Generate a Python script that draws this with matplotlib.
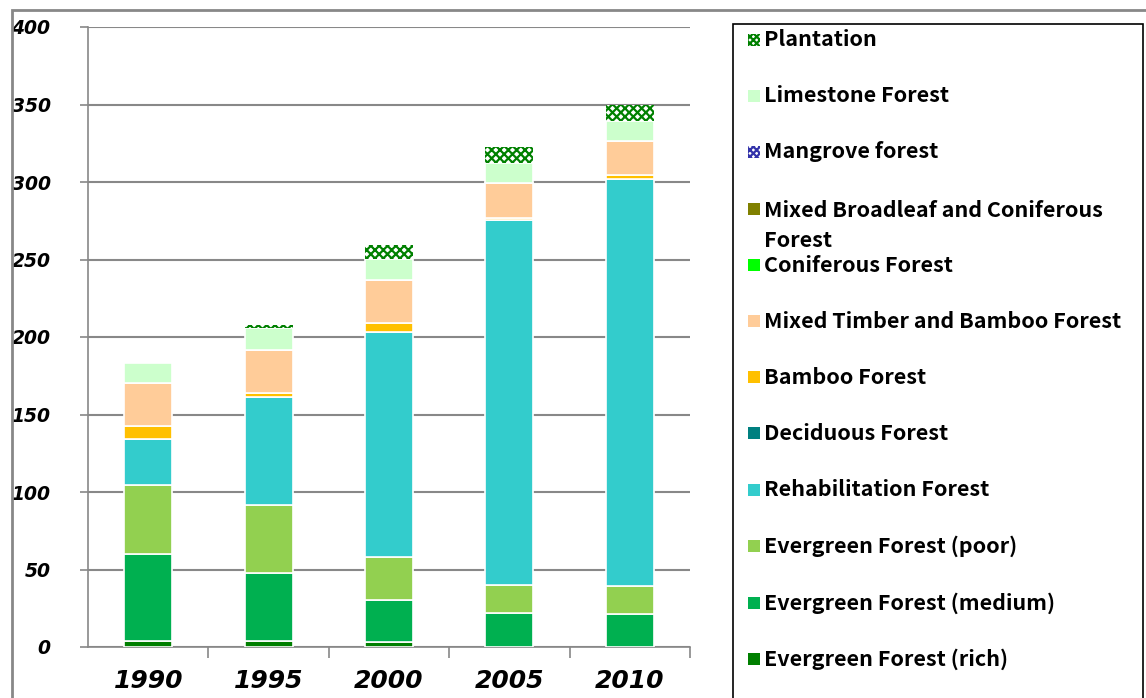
import matplotlib
matplotlib.use('Agg')
import matplotlib.pyplot as plt
from matplotlib.patches import Rectangle
import numpy as np

years = ['1990', '1995', '2000', '2005', '2010']

rich = [3.9, 4.0, 3.4, 0.0, 0.0]
medium = [56.1, 43.7, 26.9, 22.0, 21.3]
poor = [44.5, 43.9, 28.0, 18.2, 18.3]
rehab = [29.5, 69.4, 145.1, 235.5, 262.5]
deciduous = [0.0, 0.0, 0.0, 0.0, 0.0]
bamboo = [8.5, 3.1, 5.8, 1.3, 2.6]
mixed_timber = [28.0, 27.8, 27.8, 22.6, 21.9]
coniferous = [0.0, 0.0, 0.0, 0.0, 0.0]
mixed_broadleaf = [0.0, 0.0, 0.0, 0.0, 0.0]
mangrove = [0.0, 0.0, 0.0, 0.0, 0.0]
limestone = [13.0, 13.6, 13.3, 12.9, 12.9]
plantation = [0.0, 2.3, 9.1, 10.1, 10.2]

# bottom -> top
names = ['Evergreen Forest (rich)', 'Evergreen Forest (medium)', 'Evergreen Forest (poor)',
         'Rehabilitation Forest', 'Deciduous Forest', 'Bamboo Forest',
         'Mixed Timber and Bamboo Forest', 'Coniferous Forest',
         'Mixed Broadleaf and Coniferous\nForest', 'Mangrove forest',
         'Limestone Forest', 'Plantation']
values = [rich, medium, poor, rehab, deciduous, bamboo, mixed_timber, coniferous,
          mixed_broadleaf, mangrove, limestone, plantation]
colors = ['#007F00', '#00B050', '#92D050', '#33CCCC', '#008080', '#FFC000',
          '#FFCC99', '#00FF00', '#808000', '#FFFFFF', '#CCFFCC', '#FFFFFF']
hatches = [None] * 9 + ['xxxx', None, 'xxxx']
hatch_colors = [None] * 9 + ['#3333AA', None, '#008000']

plt.rcParams['hatch.linewidth'] = 1.6

W, H = 1146, 698
fig = plt.figure(figsize=(W / 100, H / 100), dpi=100)
fig.patch.set_facecolor('white')

ax = fig.add_axes([88 / W, 1 - 647 / H, (690 - 88) / W, (647 - 27) / H])

x = np.arange(len(years))
bottom = np.zeros(len(years))
for vals, col, hat, hc in zip(values, colors, hatches, hatch_colors):
    v = np.array(vals)
    if hat:
        ax.bar(x, v, 0.4, bottom=bottom, color='white', edgecolor=hc, hatch=hat,
               linewidth=0, zorder=3)
    else:
        ax.bar(x, v, 0.4, bottom=bottom, color=col, edgecolor='white',
               linewidth=1.2, zorder=3)
    bottom += v

ax.set_xlim(-0.5, 4.5)
ax.set_ylim(0, 400)
ax.set_yticks(np.arange(0, 401, 50))
ax.grid(axis='y', color='#888888', linewidth=1.5, zorder=0)
ax.set_axisbelow(True)
for s in ['top', 'right']:
    ax.spines[s].set_visible(False)
for s in ['left', 'bottom']:
    ax.spines[s].set_color('#888888')
    ax.spines[s].set_linewidth(1.2)

ax.set_xticks(x)
ax.set_xticklabels(years, fontsize=18, fontweight='bold', fontstyle='italic')
ax.set_xticks(np.arange(0.5, 4.6, 1), minor=True)
ax.tick_params(axis='x', which='major', length=0, pad=16)
ax.tick_params(axis='x', which='minor', length=8, color='#888888', width=1.2)
ax.tick_params(axis='y', length=6, color='#888888', width=1.2, pad=21,
               labelsize=13.5)
for lab in ax.get_yticklabels():
    lab.set_fontweight('bold')
    lab.set_fontstyle('italic')

# outer chart border
fig.add_artist(Rectangle((12 / W, -0.1), 1.2, 1 - 10 / H + 0.1, transform=fig.transFigure,
                         fill=False, edgecolor='#888888', linewidth=2))

# legend box
fig.add_artist(Rectangle((733 / W, -0.1), (1143 - 733) / W, 1 - 24 / H + 0.1,
                         transform=fig.transFigure, fill=False, edgecolor='black',
                         linewidth=1.2))

row_y = [659, 603, 546, 490, 433, 377, 321, 265, 209, 152, 96, 40]
for name, col, hat, hc, yy in zip(names, colors, hatches, hatch_colors, row_y):
    sq = 12
    if hat:
        p = Rectangle((748 / W, 1 - (yy + sq / 2) / H), sq / W, sq / H,
                      transform=fig.transFigure, facecolor='white', edgecolor=hc,
                      hatch='xxxxx', linewidth=0)
    else:
        p = Rectangle((748 / W, 1 - (yy + sq / 2) / H), sq / W, sq / H,
                      transform=fig.transFigure, facecolor=col, edgecolor='none')
    fig.add_artist(p)
    if '\n' in name:
        fig.text(764 / W, 1 - (yy - 9) / H, name, transform=fig.transFigure,
                 fontsize=15.5, fontweight='bold', va='top', ha='left',
                 linespacing=1.55, family=['Noto Sans CJK JP', 'DejaVu Sans'])
    else:
        fig.text(764 / W, 1 - yy / H, name, transform=fig.transFigure,
                 fontsize=15.5, fontweight='bold', va='center', ha='left',
                 family=['Noto Sans CJK JP', 'DejaVu Sans'])

fig.savefig('out.png', dpi=100)
